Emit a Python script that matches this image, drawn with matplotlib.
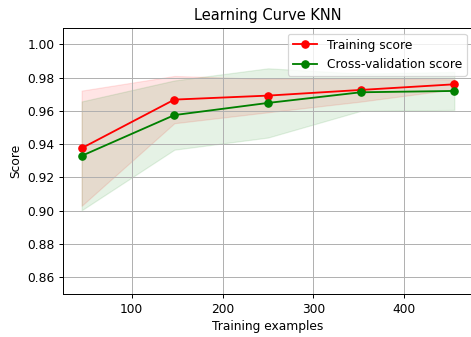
import numpy as np
import matplotlib
matplotlib.use("Agg")
import matplotlib.pyplot as plt

train_sizes = [45, 147, 250, 352, 455]
train_mean = [0.9376, 0.9668, 0.9692, 0.9726, 0.9760]
train_std = [0.0346, 0.0142, 0.0100, 0.0070, 0.0030]
cv_mean = [0.9330, 0.9575, 0.9648, 0.9712, 0.9720]
cv_std = [0.0327, 0.0208, 0.0208, 0.0112, 0.0114]

tm = np.array(train_mean); ts = np.array(train_std)
cm = np.array(cv_mean); cs = np.array(cv_std)

W, H = 471, 337
DPI = 88
fig = plt.figure(figsize=(W / DPI, H / DPI), dpi=DPI)
ax = fig.add_axes([63 / W, (H - 294) / H, (473 - 63) / W, (294 - 27.7) / H])
ax.set_title("Learning Curve KNN")
ax.set_xlabel("Training examples")
ax.set_ylabel("Score")
ax.set_ylim(0.85, 1.01)
ax.grid(True)
ax.fill_between(train_sizes, tm - ts, tm + ts, alpha=0.1, color="r")
ax.fill_between(train_sizes, cm - cs, cm + cs, alpha=0.1, color="g")
ax.plot(train_sizes, tm, 'o-', color="r", label="Training score")
ax.plot(train_sizes, cm, 'o-', color="g", label="Cross-validation score")
ax.legend(loc="upper right")
fig.savefig("out.png", dpi=DPI)
